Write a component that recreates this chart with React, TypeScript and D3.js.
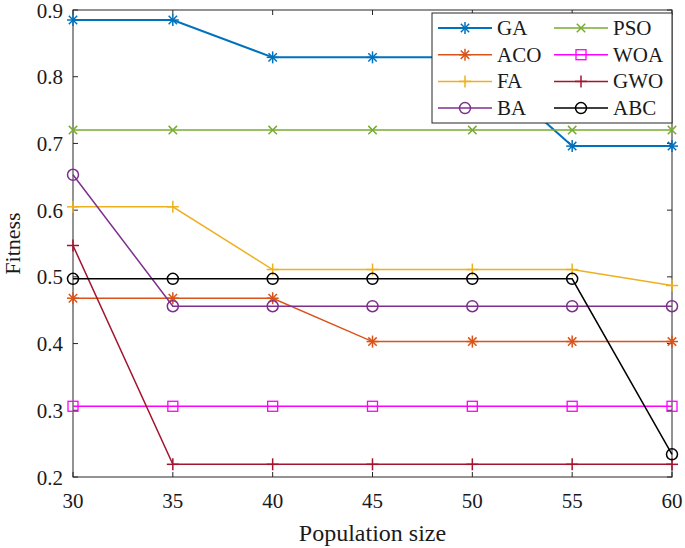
import * as d3 from "d3";
import { useEffect, useRef } from "react";

const populationSizes = [30, 35, 40, 45, 50, 55, 60];

const gaFitness = [0.885, 0.885, 0.829, 0.829, 0.829, 0.696, 0.696];
const acoFitness = [0.468, 0.468, 0.468, 0.403, 0.403, 0.403, 0.403];
const faFitness = [0.605, 0.605, 0.511, 0.511, 0.511, 0.511, 0.487];
const baFitness = [0.653, 0.456, 0.456, 0.456, 0.456, 0.456, 0.456];
const psoFitness = [0.72, 0.72, 0.72, 0.72, 0.72, 0.72, 0.72];
const woaFitness = [0.306, 0.306, 0.306, 0.306, 0.306, 0.306, 0.306];
const gwoFitness = [0.547, 0.219, 0.219, 0.219, 0.219, 0.219, 0.219];
const abcFitness = [0.497, 0.497, 0.497, 0.497, 0.497, 0.497, 0.234];

const xTicks = [30, 35, 40, 45, 50, 55, 60];
const yTicks = [0.2, 0.3, 0.4, 0.5, 0.6, 0.7, 0.8, 0.9];

type Marker = "asterisk" | "plus" | "circle" | "cross" | "square";

const series: { name: string; values: number[]; color: string; marker: Marker; width: number }[] = [
  { name: "GA", values: gaFitness, color: "#0072BD", marker: "asterisk", width: 2 },
  { name: "ACO", values: acoFitness, color: "#D95319", marker: "asterisk", width: 1.5 },
  { name: "FA", values: faFitness, color: "#EDB120", marker: "plus", width: 1.5 },
  { name: "BA", values: baFitness, color: "#7E2F8E", marker: "circle", width: 1.5 },
  { name: "PSO", values: psoFitness, color: "#77AC30", marker: "cross", width: 1.5 },
  { name: "WOA", values: woaFitness, color: "#FF00FF", marker: "square", width: 1.5 },
  { name: "GWO", values: gwoFitness, color: "#A2142F", marker: "plus", width: 1.5 },
  { name: "ABC", values: abcFitness, color: "#000000", marker: "circle", width: 1.5 },
];

const legendOrder = ["GA", "PSO", "ACO", "WOA", "FA", "GWO", "BA", "ABC"];

function drawMarker(
  g: d3.Selection<SVGGElement, unknown, null, undefined>,
  kind: Marker,
  cx: number,
  cy: number,
  color: string,
) {
  const s = 6;
  const line = (x1: number, y1: number, x2: number, y2: number) =>
    g.append("line")
      .attr("x1", cx + x1).attr("y1", cy + y1)
      .attr("x2", cx + x2).attr("y2", cy + y2)
      .attr("stroke", color).attr("stroke-width", 1.5);
  if (kind === "plus" || kind === "asterisk") {
    line(-s, 0, s, 0);
    line(0, -s, 0, s);
  }
  if (kind === "cross" || kind === "asterisk") {
    const d = s * 0.7;
    line(-d, -d, d, d);
    line(-d, d, d, -d);
  }
  if (kind === "circle") {
    g.append("circle").attr("cx", cx).attr("cy", cy).attr("r", 5.5)
      .attr("fill", "none").attr("stroke", color).attr("stroke-width", 1.5);
  }
  if (kind === "square") {
    g.append("rect").attr("x", cx - 5).attr("y", cy - 5).attr("width", 10).attr("height", 10)
      .attr("fill", "none").attr("stroke", color).attr("stroke-width", 1.3);
  }
}

export default function App() {
  const ref = useRef<SVGSVGElement | null>(null);

  useEffect(() => {
    const el = ref.current;
    if (!el) return;
    const svg = d3.select(el);
    svg.selectAll("*").remove();

    const W = 685;
    const H = 548;
    const left = 73, right = 672, top = 10, bottom = 477;
    const font = "Liberation Serif, Tinos, Times New Roman, Times, DejaVu Serif, serif";
    const axisColor = "#262626";
    const textColor = "#1a1a1a";

    const x = d3.scaleLinear().domain([30, 60]).range([left, right]);
    const y = d3.scaleLinear().domain([0.2, 0.9]).range([bottom, top]);

    svg.attr("width", W).attr("height", H).attr("viewBox", `0 0 ${W} ${H}`)
      .style("font-family", font);
    svg.append("rect").attr("width", W).attr("height", H).attr("fill", "#fff");

    const tickLen = 5;
    const axes = svg.append("g");
    axes.append("rect")
      .attr("x", left).attr("y", top)
      .attr("width", right - left).attr("height", bottom - top)
      .attr("fill", "none").attr("stroke", axisColor).attr("stroke-width", 1);

    xTicks.forEach((t) => {
      const px = x(t);
      axes.append("line").attr("x1", px).attr("x2", px).attr("y1", bottom).attr("y2", bottom - tickLen)
        .attr("stroke", axisColor);
      axes.append("line").attr("x1", px).attr("x2", px).attr("y1", top).attr("y2", top + tickLen)
        .attr("stroke", axisColor);
      axes.append("text").attr("x", px).attr("y", bottom + 31)
        .attr("text-anchor", "middle").attr("font-size", 21)
        .attr("fill", textColor).text(String(t));
    });
    yTicks.forEach((t) => {
      const py = y(t);
      axes.append("line").attr("x1", left).attr("x2", left + tickLen).attr("y1", py).attr("y2", py)
        .attr("stroke", axisColor);
      axes.append("line").attr("x1", right).attr("x2", right - tickLen).attr("y1", py).attr("y2", py)
        .attr("stroke", axisColor);
      axes.append("text").attr("x", left - 10).attr("y", py + 7.5)
        .attr("text-anchor", "end").attr("font-size", 21)
        .attr("fill", textColor).text(t.toFixed(1));
    });

    svg.append("text")
      .attr("x", (left + right) / 2).attr("y", 541)
      .attr("text-anchor", "middle").attr("font-size", 24)
      .attr("fill", textColor).text("Population size");
    svg.append("text")
      .attr("transform", `translate(20,${(top + bottom) / 2}) rotate(-90)`)
      .attr("text-anchor", "middle").attr("font-size", 22)
      .attr("fill", textColor).text("Fitness");

    const plot = svg.append("g");
    const lineGen = d3.line<number>()
      .x((_, i) => x(populationSizes[i]))
      .y((d) => y(d));

    series.forEach((s) => {
      plot.append("path").datum(s.values).attr("d", lineGen)
        .attr("fill", "none").attr("stroke", s.color).attr("stroke-width", s.width);
      const mg = plot.append("g");
      s.values.forEach((v, i) => drawMarker(mg, s.marker, x(populationSizes[i]), y(v), s.color));
    });

    // legend
    const lg = svg.append("g");
    const lx = 432, ly = 13, lw = 240, lh = 110;
    lg.append("rect").attr("x", lx).attr("y", ly).attr("width", lw).attr("height", lh)
      .attr("fill", "#fff").attr("stroke", axisColor).attr("stroke-width", 1);
    legendOrder.forEach((name, k) => {
      const s = series.find((d) => d.name === name)!;
      const col = k % 2;
      const row = Math.floor(k / 2);
      const x0 = col === 0 ? 438 : 554;
      const yy = 28 + row * 26.7;
      lg.append("line").attr("x1", x0).attr("x2", x0 + 54).attr("y1", yy).attr("y2", yy)
        .attr("stroke", s.color).attr("stroke-width", s.width);
      drawMarker(lg, s.marker, x0 + 27, yy, s.color);
      lg.append("text").attr("x", x0 + 59).attr("y", yy + 7)
        .attr("font-size", 21).attr("fill", textColor).text(name);
    });
  }, []);

  return (
    <svg
      ref={ref}
      style={{ position: "absolute", left: 0, top: 0, display: "block" }}
    />
  );
}
